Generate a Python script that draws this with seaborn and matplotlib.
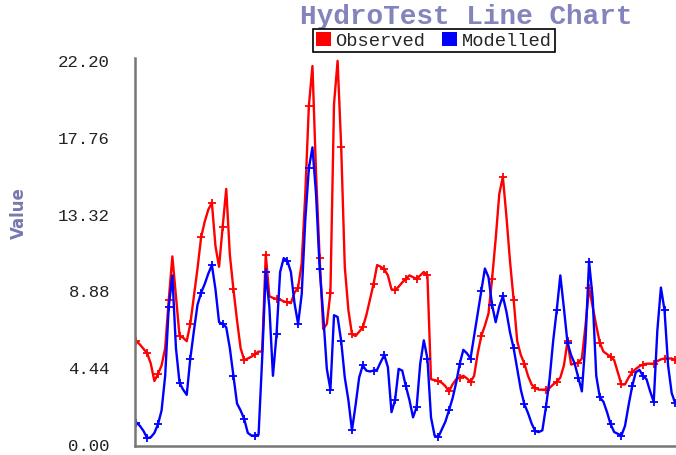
import numpy as np
import pandas as pd
import seaborn as sns
import matplotlib.pyplot as plt
from matplotlib.patches import Patch

# Data (time step index)
observed = [
    6.0, 5.8, 5.55, 5.3, 4.7, 3.7, 4.1, 4.6, 5.6, 8.4,
    10.9, 8.6, 6.3, 6.2, 6.0, 7.0, 8.6, 10.2, 12.0, 12.9,
    13.6, 14.0, 11.5, 10.3, 12.6, 14.8, 11.0, 9.0, 7.2, 5.6,
    4.9, 5.0, 5.1, 5.25, 5.4, 5.4, 11.0, 8.6, 8.5, 8.45,
    8.4, 8.3, 8.25, 8.2, 8.8, 9.1, 10.5, 14.5, 19.6, 21.9,
    15.7, 10.8, 6.7, 7.0, 8.8, 19.7, 22.2, 17.2, 10.3, 7.8,
    6.4, 6.3, 6.55, 6.8, 7.5, 8.4, 9.3, 10.4, 10.3, 10.15,
    9.8, 9.0, 8.95, 9.15, 9.4, 9.6, 9.8, 9.7, 9.6, 9.8,
    10.0, 9.8, 3.8, 3.75, 3.7, 3.6, 3.4, 3.1, 3.5, 3.8,
    3.9, 4.0, 3.85, 3.65, 4.0, 5.3, 6.3, 6.9, 7.6, 9.6,
    11.9, 14.5, 15.5, 13.2, 10.6, 8.4, 6.0, 5.2, 4.7, 4.0,
    3.5, 3.3, 3.2, 3.2, 3.2, 3.3, 3.5, 3.65, 3.9, 4.6,
    6.0, 4.65, 4.7, 4.75, 5.0, 6.9, 9.1, 8.0, 6.9, 5.9,
    5.4, 5.25, 5.1, 4.9, 4.2, 3.5, 3.5, 3.9, 4.2, 4.4,
    4.55, 4.65, 4.7, 4.7, 4.7, 4.85, 4.95, 5.0, 5.0, 5.0,
    4.9,
]
modelled = [
    1.3, 1.1, 0.8, 0.4, 0.45, 0.7, 1.2, 2.0, 4.0, 8.0,
    9.8, 5.6, 3.6, 3.2, 2.9, 5.0, 6.6, 8.1, 8.8, 9.3,
    9.9, 10.4, 9.0, 7.1, 7.0, 6.8, 5.6, 4.0, 2.4, 2.0,
    1.5, 0.7, 0.55, 0.55, 0.6, 5.0, 10.0, 8.0, 4.0, 6.4,
    10.0, 10.8, 10.65, 10.0, 8.2, 7.0, 8.7, 13.0, 16.0, 17.2,
    14.5, 10.2, 7.5, 4.4, 3.2, 7.5, 7.4, 6.0, 3.9, 2.6,
    0.85, 2.3, 3.9, 4.6, 4.3, 4.25, 4.3, 4.35, 4.8, 5.2,
    4.5, 1.9, 2.6, 4.4, 4.3, 3.4, 2.6, 1.6, 2.2, 4.7,
    6.05, 5.0, 1.6, 0.55, 0.45, 0.9, 1.35, 2.0, 2.7, 3.6,
    4.7, 5.5, 5.3, 5.0, 6.3, 7.6, 8.9, 10.2, 9.7, 8.1,
    7.1, 8.0, 8.6, 7.7, 6.5, 5.6, 4.4, 3.2, 2.35, 1.85,
    1.25, 0.8, 0.75, 0.85, 2.2, 3.8, 6.0, 7.8, 9.8, 7.9,
    5.9, 5.2, 4.7, 3.9, 3.1, 6.0, 10.6, 8.5, 4.0, 2.75,
    2.5, 1.9, 1.2, 0.75, 0.65, 0.55, 1.1, 2.3, 3.4, 4.2,
    4.35, 4.0, 3.8, 3.1, 2.5, 6.6, 9.1, 7.8, 4.6, 3.0,
    2.4,
]
yticks = [0.00, 4.44, 8.88, 13.32, 17.76, 22.20]
colors = {'Observed': '#ff0000', 'Modelled': '#0000ff'}

step = np.arange(len(observed))
df = pd.DataFrame({
    'step': np.concatenate([step, step]),
    'value': observed + modelled,
    'series': ['Observed'] * len(observed) + ['Modelled'] * len(modelled),
})

sns.set_style('white')
mono = ['Liberation Mono', 'DejaVu Sans Mono']

fig = plt.figure(figsize=(6.76, 4.55), dpi=100)
ax = fig.add_axes([0.1997, 0.02, 0.8003, 0.852])

for name in ['Observed', 'Modelled']:
    sub = df[df['series'] == name]
    sns.lineplot(data=sub, x='step', y='value', color=colors[name],
                 linewidth=1.7, marker='+', markersize=6, markeredgewidth=1.3,
                 markeredgecolor=colors[name], markevery=3,
                 legend=False, ax=ax, estimator=None)

ax.set_xlim(-0.4, 150.2)
ax.set_ylim(-0.05, 22.35)
ax.set_xticks([])
ax.set_yticks(yticks)
ax.set_yticklabels([f'{t:.2f}' for t in yticks], family=mono, fontsize=12.5, color='#222222')
ax.tick_params(axis='y', length=0, pad=18)
ax.set_xlabel('')
ax.set_ylabel('Value', family=['Liberation Sans Narrow', 'DejaVu Sans'],
              fontsize=12, fontweight='bold', color='#7878b0')
ax.yaxis.set_label_coords(-0.198, 0.6)

for side in ['top', 'right']:
    ax.spines[side].set_visible(False)
for side in ['left', 'bottom']:
    ax.spines[side].set_color('#777777')
    ax.spines[side].set_linewidth(1.8)

fig.text(0.69, 0.963, 'HydroTest Line Chart', family=mono, fontsize=20,
         fontweight='bold', color='#8484bc', ha='center', va='center')

handles = [Patch(facecolor='#ff0000', edgecolor='none', label='Observed'),
           Patch(facecolor='#0000ff', edgecolor='none', label='Modelled')]
leg = fig.legend(handles=handles, loc='upper left', bbox_to_anchor=(0.463, 0.936),
                 ncol=2, frameon=True, fancybox=False, framealpha=1,
                 prop={'family': mono, 'size': 13.5},
                 handlelength=0.8, handleheight=0.8, handletextpad=0.25,
                 columnspacing=0.9, borderpad=0.15, borderaxespad=0)
leg.get_frame().set_edgecolor('black')
leg.get_frame().set_linewidth(1.2)

fig.savefig('out.png', dpi=100)
